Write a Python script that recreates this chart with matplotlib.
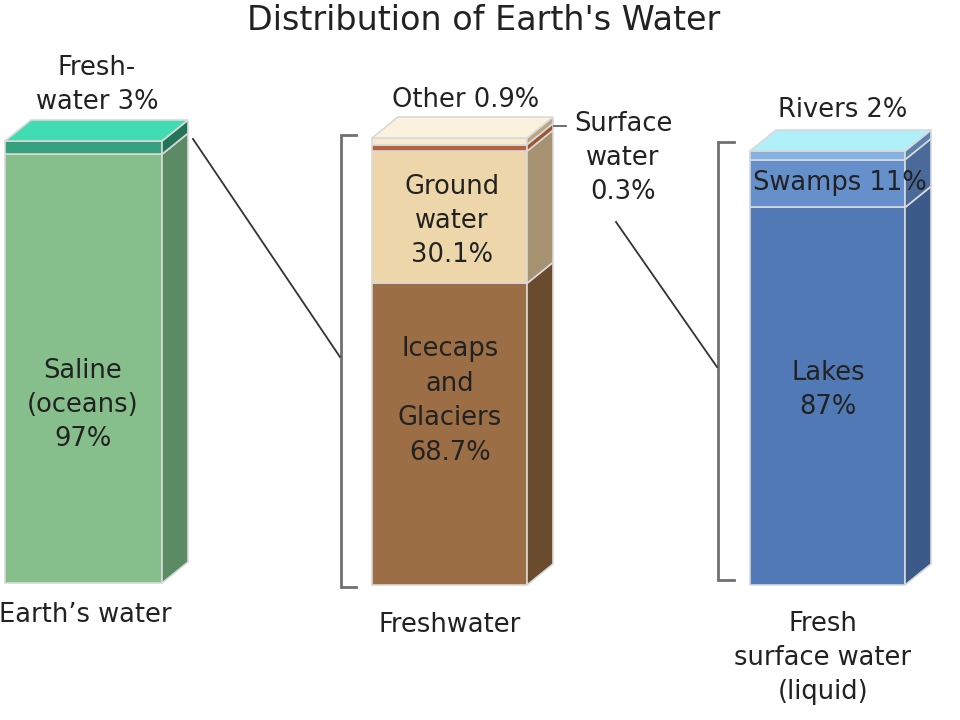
import matplotlib
matplotlib.use("Agg")
import matplotlib.pyplot as plt
import numpy as np

# ---------------- data ----------------
bar_names = ["Earth\u2019s water", "Freshwater", "Fresh\nsurface water\n(liquid)"]
earth_cats = ["Saline (oceans)", "Freshwater"]
earth_vals = [97, 3]
fresh_cats = ["Icecaps and Glaciers", "Ground water", "Surface water", "Other"]
fresh_vals = [68.7, 30.1, 0.3, 0.9]
surface_cats = ["Lakes", "Swamps", "Rivers"]
surface_vals = [87, 11, 2]

title = "Distribution of Earth's Water"

# ---------------- style ----------------
W, H = 960, 720
DX, DY = 26, 21          # pseudo-3D depth offset
MIN_SHOW = 1.5           # minimum displayed share (%) so thin layers stay visible
EDGE = "#d9d9d9"
TXT = "#222222"
FS = 18.5

bars = [
    dict(vals=earth_vals, left=5, width=157, bottom=137, height=442,
         front=["#86bf8c", "#37a07c"], side=["#5b8a64", "#237459"], top="#42dcb2"),
    dict(vals=fresh_vals, left=372, width=155, bottom=135, height=447,
         front=["#9b6e46", "#ecd6aa", "#b5633c", "#f7ebcf"],
         side=["#6a4b2e", "#a69270", "#9c5530", "#b9a67e"], top="#faf2dc"),
    dict(vals=surface_vals, left=750, width=155, bottom=135, height=434,
         front=["#5079b6", "#6690cc", "#86b2e2"],
         side=["#3c5a88", "#4a6b9a", "#5a80b0"], top="#b0f0f8"),
]

fig = plt.figure(figsize=(W / 100, H / 100), dpi=100)
ax = fig.add_axes([0, 0, 1, 1])
ax.set_xlim(0, W)
ax.set_ylim(0, H)
ax.axis("off")

for b in bars:
    vals = np.array(b["vals"], dtype=float)
    shown = np.maximum(vals, MIN_SHOW)
    hs = shown / shown.sum() * b["height"]
    bottoms = b["bottom"] + np.concatenate([[0], np.cumsum(hs)[:-1]])
    x0, w = b["left"], b["width"]
    ax.bar([x0] * len(vals), hs, width=w, bottom=bottoms, align="edge",
           color=b["front"], edgecolor=EDGE, linewidth=1.2, zorder=2)
    for h, y0, sc in zip(hs, bottoms, b["side"]):
        y1 = y0 + h
        ax.fill([x0 + w, x0 + w + DX, x0 + w + DX, x0 + w],
                [y0, y0 + DY, y1 + DY, y1],
                facecolor=sc, edgecolor=EDGE, linewidth=1.2, zorder=2)
    ytop = b["bottom"] + hs.sum()
    ax.fill([x0, x0 + w, x0 + w + DX, x0 + DX],
            [ytop, ytop, ytop + DY, ytop + DY],
            facecolor=b["top"], edgecolor=EDGE, linewidth=1.2, zorder=2)

def T(x, y_pix, s, **kw):
    ax.text(x, H - y_pix, s, ha="center", va="center", fontsize=kw.pop("fs", FS),
            color=TXT, linespacing=1.42, zorder=5, **kw)

# title
T(484, 21, title, fs=24)

# bar 1 labels
T(97, 85, "Fresh-\nwater 3%")
T(83, 405, "Saline\n(oceans)\n97%")
T(85, 615, bar_names[0])

# bar 2 labels
T(623, 158, "Surface\nwater\n0.3%")
T(466, 100, "Other 0.9%")
T(452, 221, "Ground\nwater\n30.1%")
T(450, 401, "Icecaps\nand\nGlaciers\n68.7%")
T(450, 625, bar_names[1])

# bar 3 labels
T(843, 110, "Rivers 2%")
T(840, 183, "Swamps 11%")
T(828, 390, "Lakes\n87%")
T(823, 658, bar_names[2])

# leader for surface water
ax.plot([554, 566], [H - 126, H - 126], color="#555555", lw=1.2, zorder=4)

# brackets
BR = "#707070"
for xb, xt, ytp, ybt in [(341, 356, 135, 587), (718, 734, 142, 580)]:
    ax.plot([xt, xb, xb, xt], [H - ytp, H - ytp, H - ybt, H - ybt],
            color=BR, lw=2, solid_joinstyle="miter", zorder=3)

# connector lines
ax.plot([193, 340], [H - 139, H - 357], color="#333333", lw=1.3, zorder=3)
ax.plot([616, 717], [H - 222, H - 367], color="#333333", lw=1.3, zorder=3)

fig.savefig("out.png", dpi=100, facecolor="white")
